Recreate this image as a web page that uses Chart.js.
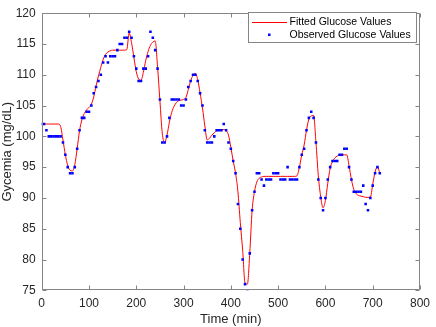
<!DOCTYPE html>
<html>
<head>
<meta charset="utf-8">
<script src="https://cdn.jsdelivr.net/npm/chart.js@4.4.0/dist/chart.umd.min.js"></script>
<style>
  html, body { margin: 0; padding: 0; background: #fff; }
</style>
</head>
<body>
<canvas id="glucoseChart" width="436" height="327"></canvas>
<script>
// sampling times (min)
const timeMin = [
  0, 5, 10, 15, 20, 25, 30, 35, 40, 45, 50, 55, 60, 65, 70, 75, 80, 85, 90, 95,
  100, 105, 110, 115, 120, 125, 130, 135, 140, 145, 150, 155, 160, 165, 170, 175, 180, 185, 190, 195,
  200, 205, 210, 215, 220, 225, 230, 235, 240, 245, 250, 255, 260, 265, 270, 275, 280, 285, 290, 295,
  300, 305, 310, 315, 320, 325, 330, 335, 340, 345, 350, 355, 360, 365, 370, 375, 380, 385, 390, 395,
  400, 405, 410, 415, 420, 425, 430, 435, 440, 445, 450, 455, 460, 465, 470, 475, 480, 485, 490, 495,
  500, 505, 510, 515, 520, 525, 530, 535, 540, 545, 550, 555, 560, 565, 570, 575, 580, 585, 590, 595,
  600, 605, 610, 615, 620, 625, 630, 635, 640, 645, 650, 655, 660, 665, 670, 675, 680, 685, 690, 695,
  700, 705, 710, 715
];

// observed glucose (mg/dL)
const observed = [
  102, 102, 101, 100, 100, 100, 100, 100, 100, 99, 97, 95, 94, 94, 95, 98, 101, 103, 103, 104,
  104, 105, 107, 108, 109, 110, 112, 113, 112, 113, 113, 113, 114, 115, 115, 116, 116, 117, 116, 113,
  111, 109, 109, 111, 111, 113, 117, 116, 114, 111, 106, 99, 99, 100, 103, 106, 106, 106, 106, 105,
  105, 106, 108, 109, 110, 110, 109, 107, 105, 101, 99, 99, 99, 100, 101, 101, 101, 102, 101, 99,
  98, 96, 94, 89, 85, 80, 76, 75, 81, 88, 91, 94, 94, 93, 92, 93, 93, 93, 94, 94,
  94, 93, 93, 93, 95, 93, 93, 93, 93, 95, 97, 98, 101, 103, 104, 103, 99, 93, 90, 88,
  90, 93, 95, 96, 96, 96, 97, 97, 98, 98, 95, 93, 91, 91, 91, 91, 92, 89, 88, 90,
  92, 94, 95, 94
];

// fitted model (mg/dL), read at the same times
const fitted = [
  102, 102, 102, 102, 102, 102, 102, 102, 101.6, 99.4, 97, 95.3, 94.5, 94.4, 95.4, 98, 100.9, 102.7, 103.7, 104.3,
  104.7, 105.2, 106.4, 108.2, 109.8, 111.2, 112.5, 113.3, 113.7, 113.9, 114, 114, 114, 114, 114, 114, 114.1, 116.8, 115.2, 112.8,
  110.5, 109.3, 109.1, 110.4, 112.3, 113.8, 114.8, 115.3, 115.5, 111.3, 105.8, 100.5, 99, 100.2, 102.3, 103.9, 104.9, 105.5, 105.8, 105.9,
  106, 106.3, 107.6, 109, 109.9, 110.2, 109.2, 107, 104.6, 101.7, 99.4, 99.7, 100.2, 100.6, 100.9, 101, 101.1, 101.1, 100.9, 100.2,
  98.2, 96, 94, 91, 86, 81.5, 76.2, 76, 81, 88, 91, 92.6, 93.2, 93.4, 93.5, 93.5, 93.5, 93.5, 93.5, 93.5,
  93.5, 93.5, 93.5, 93.5, 93.5, 93.5, 93.5, 93.5, 93.6, 95, 97, 98.6, 101, 102.8, 103.3, 103.4, 99, 93.6, 90.2, 88.4,
  89.6, 92.4, 94.8, 95.9, 96.5, 96.8, 97, 97, 97, 97, 95.2, 93, 91.4, 90.7, 90.4, 90.3, 90.2, 90.1, 90.1, 90.1,
  92.2, 94.2, 95.1, 94
];

const xTicks = [0, 100, 200, 300, 400, 500, 600, 700, 800];
const yTicks = [75, 80, 85, 90, 95, 100, 105, 110, 115, 120];
const seriesNames = ['Fitted Glucose Values', 'Observed Glucose Values'];
const xTitle = 'Time (min)';
const yTitle = 'Gycemia (mg/dL)';

const FONT = "'Liberation Sans', Arial, Helvetica, sans-serif";
const AXIS_GREY = '#858585';
const TEXT_GREY = '#262626';
const RED = '#ff0000';
const BLUE = '#0000ff';

function toPoints(xs, ys) {
  return xs.map((x, i) => ({ x: x, y: ys[i] }));
}

// matlab style box, inward ticks and legend
const boxPlugin = {
  id: 'boxPlugin',
  afterDraw(chart) {
    const ctx = chart.ctx;
    const area = chart.chartArea;
    const xs = chart.scales.x;
    const ys = chart.scales.y;
    const L = Math.round(area.left) + 0.5;
    const R = Math.round(area.right) - 0.5;
    const T = Math.round(area.top) + 0.5;
    const B = Math.round(area.bottom) - 0.5;
    const tick = 4;

    ctx.save();
    ctx.strokeStyle = AXIS_GREY;
    ctx.lineWidth = 1;
    ctx.beginPath();
    ctx.rect(L, T, R - L, B - T);
    xTicks.forEach(v => {
      const px = Math.round(xs.getPixelForValue(v)) + 0.5;
      ctx.moveTo(px, B); ctx.lineTo(px, B - tick);
      ctx.moveTo(px, T); ctx.lineTo(px, T + tick);
    });
    yTicks.forEach(v => {
      const py = Math.round(ys.getPixelForValue(v)) + 0.5;
      ctx.moveTo(L, py); ctx.lineTo(L + tick, py);
      ctx.moveTo(R, py); ctx.lineTo(R - tick, py);
    });
    ctx.stroke();

    // legend
    const lx = 248.5, ly = 12.5, lw = 168, lh = 30;
    ctx.fillStyle = '#fff';
    ctx.fillRect(lx, ly, lw, lh);
    ctx.strokeStyle = AXIS_GREY;
    ctx.strokeRect(lx, ly, lw, lh);

    ctx.strokeStyle = RED;
    ctx.beginPath();
    ctx.moveTo(252, 22.5);
    ctx.lineTo(287, 22.5);
    ctx.stroke();

    ctx.fillStyle = BLUE;
    ctx.fillRect(268, 33.5, 2.5, 2.5);

    ctx.fillStyle = '#000';
    ctx.font = '10.5px ' + FONT;
    ctx.textBaseline = 'middle';
    ctx.textAlign = 'left';
    ctx.fillText(seriesNames[0], 289.5, 22.5);
    ctx.fillText(seriesNames[1], 289.5, 35);
    ctx.restore();
  }
};

const ctx = document.getElementById('glucoseChart');
new Chart(ctx, {
  type: 'scatter',
  data: {
    datasets: [
      {
        label: seriesNames[0],
        data: toPoints(timeMin, fitted),
        showLine: true,
        borderColor: RED,
        borderWidth: 1,
        pointRadius: 0,
        cubicInterpolationMode: 'monotone',
        order: 2
      },
      {
        label: seriesNames[1],
        data: toPoints(timeMin, observed),
        showLine: false,
        pointStyle: 'rect',
        pointRadius: 1.8,
        borderWidth: 0,
        backgroundColor: BLUE,
        order: 1
      }
    ]
  },
  options: {
    responsive: false,
    animation: false,
    devicePixelRatio: 1,
    layout: { padding: { left: 0, right: 9.3, top: 5, bottom: 0 } },
    plugins: { legend: { display: false }, tooltip: { enabled: false } },
    scales: {
      x: {
        type: 'linear', min: 0, max: 800,
        afterBuildTicks: s => { s.ticks = xTicks.map(v => ({ value: v })); },
        afterFit: s => { s.height = 36.7; },
        grid: { display: false, drawTicks: false },
        border: { display: false },
        ticks: { color: TEXT_GREY, font: { family: FONT, size: 12 }, padding: 6, maxRotation: 0, autoSkip: false },
        title: { display: true, text: xTitle, color: TEXT_GREY, font: { family: FONT, size: 13 }, padding: { top: 0, bottom: 0 } }
      },
      y: {
        type: 'linear', min: 75, max: 120,
        afterBuildTicks: s => { s.ticks = yTicks.map(v => ({ value: v })); },
        afterFit: s => { s.width = 41.7; },
        grid: { display: false, drawTicks: false },
        border: { display: false },
        ticks: { color: TEXT_GREY, font: { family: FONT, size: 12 }, padding: 6, autoSkip: false },
        title: { display: true, text: yTitle, color: TEXT_GREY, font: { family: FONT, size: 13 }, padding: { top: 0, bottom: 0 } }
      }
    }
  },
  plugins: [boxPlugin]
});
</script>
</body>
</html>
